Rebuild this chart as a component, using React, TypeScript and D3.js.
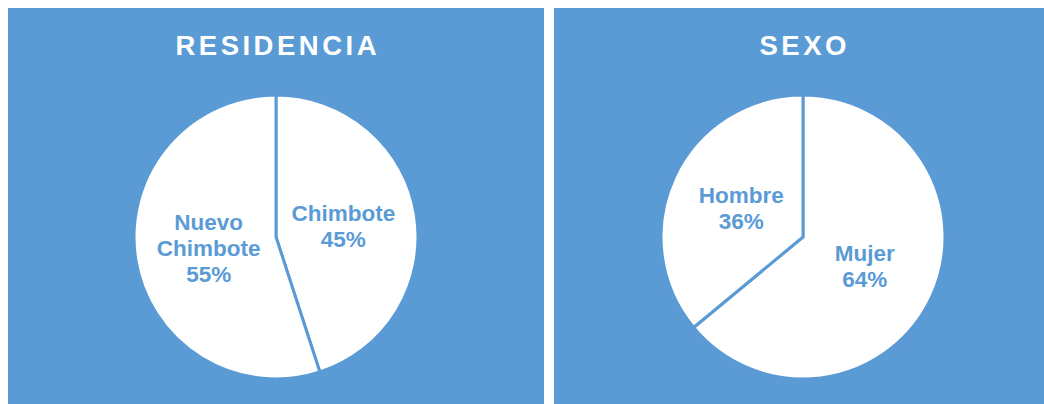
import * as d3 from 'd3';
import { useEffect, useRef } from 'react';

const blue = '#5b9bd5';

const residenciaLabels = ['Chimbote', 'Nuevo Chimbote'];
const residenciaValues = [45, 55];
const sexoLabels = ['Mujer', 'Hombre'];
const sexoValues = [64, 36];

const App = () => {
    const ref = useRef<SVGSVGElement>(null);

    useEffect(() => {
        drawChart();
    }, []);

    const drawChart = () => {
        const width = 1044;
        const height = 404;
        const svg: any = d3.select(ref.current);
        svg.selectAll('*').remove();
        svg.attr('width', width).attr('height', height);

        const panels = [
            { title: 'RESIDENCIA', labels: residenciaLabels, values: residenciaValues, x: 8, w: 536 },
            { title: 'SEXO', labels: sexoLabels, values: sexoValues, x: 554, w: 500 },
        ];

        const radius = 142;
        const arc: any = d3.arc().innerRadius(0).outerRadius(radius);
        const labelArc: any = d3.arc().innerRadius(radius * 0.48).outerRadius(radius * 0.48);
        const pie: any = d3.pie().sort(null).value((d: any) => d.value);

        panels.forEach((p, pi) => {
            // background
            svg.append('rect')
                .attr('x', p.x).attr('y', 8)
                .attr('width', p.w).attr('height', height)
                .attr('fill', blue);

            const cx = pi === 0 ? 276 : 803;

            // title
            svg.append('text')
                .attr('x', cx + 1.75)
                .attr('y', 55)
                .attr('text-anchor', 'middle')
                .style('font-family', 'Liberation Sans, Arial, sans-serif')
                .style('font-weight', 700)
                .style('font-size', '27.5px')
                .style('letter-spacing', '3.5px')
                .style('fill', '#fff')
                .text(p.title);

            const g = svg.append('g').attr('transform', `translate(${cx},237)`);
            const data = pie(p.labels.map((l, i) => ({ name: l, value: p.values[i] })));

            g.selectAll('path.slice')
                .data(data)
                .enter()
                .append('path')
                .attr('class', 'slice')
                .attr('d', arc)
                .attr('fill', '#fff')
                .attr('stroke', blue)
                .attr('stroke-width', 3)
                .attr('stroke-linejoin', 'miter');

            // labels
            data.forEach((d: any) => {
                const [lx, ly] = labelArc.centroid(d);
                const lines = d.data.name.split(' ').concat([d.data.value + '%']);
                const t = g.append('text')
                    .attr('text-anchor', 'middle')
                    .style('font-family', 'Liberation Sans, Arial, sans-serif')
                    .style('font-weight', 700)
                    .style('font-size', '22.5px')
                    .style('fill', blue);
                lines.forEach((line: string, i: number) => {
                    t.append('tspan')
                        .attr('x', lx)
                        .attr('y', ly + (i - (lines.length - 1) / 2) * 26 + 8)
                        .text(line);
                });
            });
        });
    };

    return (
        <svg
            ref={ref}
            style={{ position: 'absolute', left: 0, top: 0, display: 'block', background: '#fff' }}
        />
    );
};

export default App;
